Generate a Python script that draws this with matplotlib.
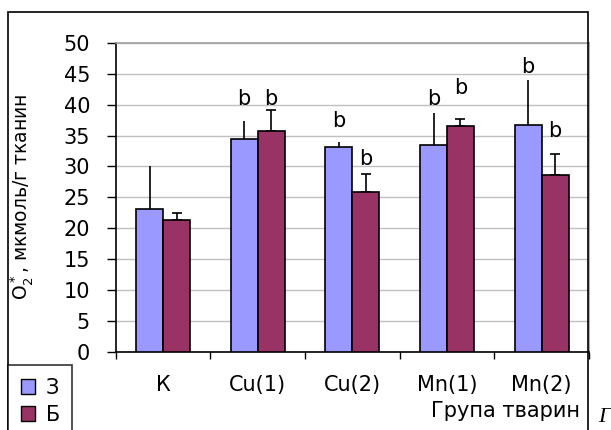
import numpy as np
import matplotlib
matplotlib.use("Agg")
import matplotlib.pyplot as plt
from matplotlib.patches import Rectangle, Patch
from matplotlib.ticker import MultipleLocator, FixedLocator

plt.rcParams['font.family'] = ['DejaVu Sans']

groups = ['К', 'Cu(1)', 'Cu(2)', 'Mn(1)', 'Mn(2)']
series_names = ['З', 'Б']
z_vals = [23.1, 34.5, 33.2, 33.4, 36.7]
z_err = [6.9, 2.9, 0.7, 5.3, 7.3]
b_vals = [21.3, 35.8, 25.9, 36.6, 28.7]
b_err = [1.2, 3.3, 2.9, 1.1, 3.3]
z_marks = ['', 'b', 'b', 'b', 'b']
b_marks = ['', 'b', 'b', 'b', 'b']
z_mark_y = [0, 40.9, 37.3, 40.9, 46.1]
b_mark_y = [0, 40.9, 31.2, 42.7, 35.7]

W, H = 611, 430
fig = plt.figure(figsize=(W / 100, H / 100), dpi=100)

# plot area in pixel coords
x0, x1, y0, y1 = 115.7, 589, 43, 351.7
ax = fig.add_axes([x0 / W, 1 - y1 / H, (x1 - x0) / W, (y1 - y0) / H])

c_z = '#9999FF'
c_b = '#993366'
bw = 0.285
fs = 15
x = np.arange(len(groups))

ax.bar(x - bw / 2, z_vals, bw, color=c_z, edgecolor='black', linewidth=1.2, zorder=3)
ax.bar(x + bw / 2, b_vals, bw, color=c_b, edgecolor='black', linewidth=1.2, zorder=3)
ax.errorbar(x - bw / 2, z_vals, yerr=[np.zeros(len(z_err)), z_err], fmt='none',
            ecolor='black', elinewidth=1.2, capsize=0, zorder=2)
ax.errorbar(x + bw / 2, b_vals, yerr=[np.zeros(len(b_err)), b_err], fmt='none',
            ecolor='black', elinewidth=1.2, capsize=3.5, capthick=1.2, zorder=2)

for i in range(len(groups)):
    if z_marks[i]:
        ax.text(x[i] - bw / 2, z_mark_y[i], z_marks[i], ha='center', va='center', fontsize=fs)
    if b_marks[i]:
        ax.text(x[i] + bw / 2, b_mark_y[i], b_marks[i], ha='center', va='center', fontsize=fs)

ax.set_xlim(-0.5, len(groups) - 0.5)
ax.set_ylim(0, 50)
ax.yaxis.set_major_locator(MultipleLocator(5))
ax.yaxis.grid(True, color='#c0c0c0', linewidth=1, zorder=0)
ax.set_axisbelow(True)

ax.set_xticks(x)
ax.set_xticklabels(groups)
ax.xaxis.set_minor_locator(FixedLocator(np.arange(-0.5, len(groups), 1.0)))
ax.tick_params(axis='x', which='major', length=0, pad=17, labelsize=fs)
ax.tick_params(axis='x', which='minor', length=5, width=1, direction='out')
ax.tick_params(axis='y', length=6.5, width=1, direction='out', pad=12, labelsize=fs)

for s in ['top', 'right']:
    ax.spines[s].set_color('#a0a0a0')
    ax.spines[s].set_linewidth(1.2)
for s in ['left', 'bottom']:
    ax.spines[s].set_color('black')
    ax.spines[s].set_linewidth(1.2)

ax.set_ylabel('O$_2^*$, мкмоль/г тканин', fontsize=13.5)
ax.yaxis.set_label_coords((35 - x0) / (x1 - x0), 0.5)

fig.text(580 / W, 1 - 411 / H, 'Група тварин', ha='right', va='center', fontsize=fs)
fig.text(598 / W, 1 - 418 / H, 'Г', ha='left', va='center', fontsize=16,
         family='Liberation Serif', style='italic')

# outer chart frame
fig.patches.append(Rectangle((8 / W, -0.05), (588 - 8) / W, 1 - 12 / H + 0.05,
                             transform=fig.transFigure, fill=False,
                             edgecolor='black', linewidth=1.2))

handles = [Patch(facecolor=c_z, edgecolor='black'), Patch(facecolor=c_b, edgecolor='black')]
leg = fig.legend(handles, series_names, loc='upper left',
                 bbox_to_anchor=(8 / W, 1 - 365 / H), borderaxespad=0,
                 fontsize=fs, frameon=True, fancybox=False, edgecolor='black',
                 handlelength=0.7, handleheight=0.7, handletextpad=0.5,
                 labelspacing=0.35, borderpad=0.6)
leg.get_frame().set_linewidth(1.2)

fig.savefig('out.png', dpi=100)
